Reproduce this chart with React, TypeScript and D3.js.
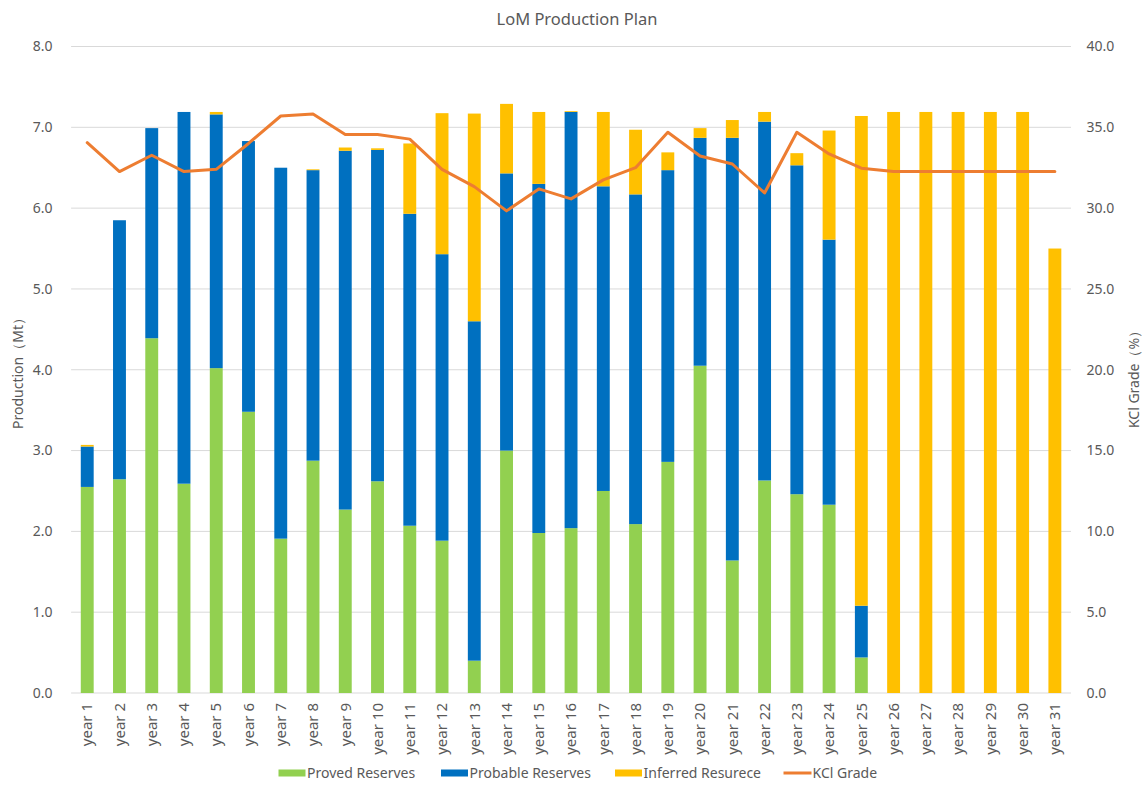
import React from "react";
import * as d3 from "d3";

const years = Array.from({ length: 31 }, (_, i) => `year ${i + 1}`);
const proved = [2.55, 2.645, 4.39, 2.59, 4.02, 3.48, 1.91, 2.875, 2.27, 2.62, 2.07, 1.885, 0.4, 3.0, 1.98, 2.04, 2.5, 2.09, 2.86, 4.05, 1.64, 2.63, 2.46, 2.33, 0.44, 0, 0, 0, 0, 0, 0];
const probable = [0.5, 3.205, 2.6, 4.6, 3.14, 3.35, 4.59, 3.595, 4.44, 4.1, 3.86, 3.545, 4.2, 3.43, 4.32, 5.15, 3.77, 4.08, 3.61, 2.82, 5.23, 4.44, 4.07, 3.28, 0.64, 0, 0, 0, 0, 0, 0];
const inferred = [0.02, 0, 0, 0, 0.03, 0, 0, 0.01, 0.04, 0.02, 0.87, 1.745, 2.57, 0.86, 0.89, 0.01, 0.92, 0.8, 0.22, 0.12, 0.22, 0.12, 0.15, 1.35, 6.06, 7.19, 7.19, 7.19, 7.19, 7.19, 5.5];
const kcl = [34.05, 32.26, 33.27, 32.26, 32.4, 34.0, 35.7, 35.83, 34.55, 34.55, 34.27, 32.4, 31.33, 29.83, 31.19, 30.57, 31.75, 32.5, 34.69, 33.23, 32.73, 30.94, 34.69, 33.35, 32.47, 32.26, 32.26, 32.26, 32.26, 32.26, 32.26];
const leftTicks = [0, 1, 2, 3, 4, 5, 6, 7, 8];
const rightTicks = [0, 5, 10, 15, 20, 25, 30, 35, 40];
const seriesNames = ["Proved Reserves", "Probable Reserves", "Inferred Resurece"];
const lineName = "KCl Grade";

const colors = ["#92D050", "#0070C0", "#FFC000"];
const lineColor = "#ED7D31";
const textColor = "#595959";
const font = "'Noto Sans', 'Open Sans', sans-serif";

export default function App() {
  const W = 1148, H = 786;
  const left = 71.1, right = 1071, top = 46.5, bottom = 693;
  const x = d3.scaleBand<string>().domain(years).range([left, right]).paddingInner(0.6).paddingOuter(0.3);
  const y = d3.scaleLinear().domain([0, 8]).range([bottom, top]);
  const y2 = d3.scaleLinear().domain([0, 40]).range([bottom, top]);

  const rows = years.map((yr, i) => ({ yr, p: proved[i], b: probable[i], f: inferred[i] }));
  const stack = d3.stack<any>().keys(["p", "b", "f"])(rows);

  const line = d3.line<number>()
    .x((_, i) => (x(years[i]) as number) + x.bandwidth() / 2)
    .y((d) => y2(d));

  const legendItems = [
    { name: seriesNames[0], color: colors[0], x: 278.5, type: "rect" },
    { name: seriesNames[1], color: colors[1], x: 441, type: "rect" },
    { name: seriesNames[2], color: colors[2], x: 615, type: "rect" },
    { name: lineName, color: lineColor, x: 783.5, type: "line" },
  ];

  return (
    <svg width={W} height={H} style={{ position: "absolute", left: 0, top: 0, background: "#fff" }} fontFamily={font}>
      <rect x={0} y={0} width={W} height={H} fill="#fff" />
      <text x={577} y={25} textAnchor="middle" fontSize={16.5} fill={textColor}>LoM Production Plan</text>
      {leftTicks.map((t) => (
        <line key={"g" + t} x1={left} x2={right} y1={y(t)} y2={y(t)} stroke="#D9D9D9" strokeWidth={1} />
      ))}
      {leftTicks.map((t) => (
        <text key={"l" + t} x={52.5} y={y(t)} dy="0.35em" textAnchor="end" fontSize={14} fill={textColor}>{t.toFixed(1)}</text>
      ))}
      {rightTicks.map((t) => (
        <text key={"r" + t} x={1086.5} y={y2(t)} dy="0.35em" textAnchor="start" fontSize={14} fill={textColor}>{t.toFixed(1)}</text>
      ))}
      <text transform={`translate(23,370) rotate(-90)`} textAnchor="middle" fontSize={14} fill={textColor}>Production（Mt）</text>
      <text transform={`translate(1139,376) rotate(-90)`} textAnchor="middle" fontSize={14} fill={textColor}>KCl Grade（%）</text>
      {stack.map((s, si) => (
        <g key={si} fill={colors[si]}>
          {s.map((d, i) => {
            const h = y(d[0]) - y(d[1]);
            if (h <= 0) return null;
            return <rect key={i} x={x(years[i])} y={y(d[1])} width={x.bandwidth()} height={h} />;
          })}
        </g>
      ))}
      <path d={line(kcl) as string} fill="none" stroke={lineColor} strokeWidth={3} strokeLinejoin="round" strokeLinecap="round" />
      {years.map((yr) => (
        <text key={yr} transform={`translate(${(x(yr) as number) + x.bandwidth() / 2},703) rotate(-90)`} dy="0.35em" textAnchor="end" fontSize={15} fill={textColor}>{yr}</text>
      ))}
      {legendItems.map((it) => (
        <g key={it.name}>
          {it.type === "rect" ? (
            <rect x={it.x} y={769.5} width={27} height={7} fill={it.color} />
          ) : (
            <line x1={it.x} x2={it.x + 28} y1={773} y2={773} stroke={it.color} strokeWidth={3} />
          )}
          <text x={it.x + (it.type === "rect" ? 28.5 : 29)} y={773} dy="0.35em" fontSize={14} fill={textColor}>{it.name}</text>
        </g>
      ))}
    </svg>
  );
}
